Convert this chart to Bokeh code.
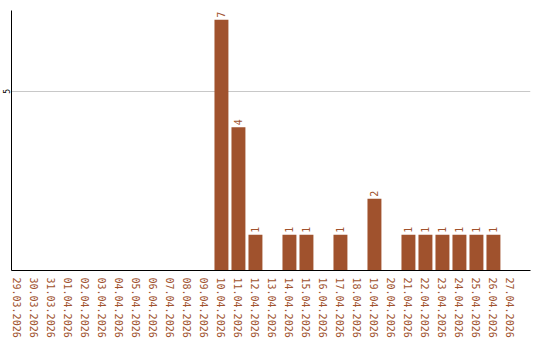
from bokeh.plotting import figure
from bokeh.models import ColumnDataSource, Range1d, FixedTicker
from bokeh.embed import file_html
from bokeh.resources import INLINE
from bokeh.core.properties import value
import math

dates = ["29.03.2026", "30.03.2026", "31.03.2026", "01.04.2026", "02.04.2026",
         "03.04.2026", "04.04.2026", "05.04.2026", "06.04.2026", "07.04.2026",
         "08.04.2026", "09.04.2026", "10.04.2026", "11.04.2026", "12.04.2026",
         "13.04.2026", "14.04.2026", "15.04.2026", "16.04.2026", "17.04.2026",
         "18.04.2026", "19.04.2026", "20.04.2026", "21.04.2026", "22.04.2026",
         "23.04.2026", "24.04.2026", "25.04.2026", "26.04.2026", "27.04.2026"]
counts = [0, 0, 0, 0, 0, 0, 0, 0, 0, 0,
          0, 0, 7, 4, 1, 0, 1, 1, 0, 1,
          0, 2, 0, 1, 1, 1, 1, 1, 1, 0]
y_ticks = [5]

BROWN = "#A0522D"
idx = list(range(len(dates)))
src = ColumnDataSource(dict(x=idx, top=counts))
nz = [i for i, c in enumerate(counts) if c > 0]
lab = ColumnDataSource(dict(x=nz, y=[counts[i] for i in nz],
                            t=[str(counts[i]) for i in nz]))

p = figure(width=540, height=340, output_backend="svg", toolbar_location=None,
           x_range=Range1d(-0.35, 30.18), y_range=Range1d(0, 7.26),
           min_border_left=10, min_border_right=10, min_border_top=10,
           min_border_bottom=70)
p.outline_line_color = None
p.background_fill_color = "white"
p.border_fill_color = "white"

p.vbar(x="x", top="top", width=0.82, bottom=0, source=src,
       fill_color=BROWN, line_color=None)
p.text(x="x", y="y", text="t", source=lab, angle=math.pi / 2,
       text_align="left", text_baseline="middle", y_offset=-2,
       text_color=BROWN, text_font=value("DejaVu Sans Mono"),
       text_font_size="10px")

p.xaxis.ticker = FixedTicker(ticks=idx)
p.xaxis.major_label_overrides = {i: d for i, d in enumerate(dates)}
p.xaxis.major_label_orientation = "vertical"
p.xaxis.major_label_text_color = BROWN
p.xaxis.major_label_text_font = "DejaVu Sans Mono"
p.xaxis.major_label_text_font_size = "10px"
p.xaxis.major_label_standoff = 7
p.xaxis.major_tick_line_color = None
p.xaxis.major_tick_out = 0
p.xaxis.major_tick_in = 0
p.xaxis.minor_tick_line_color = None
p.xaxis.axis_line_color = "black"

p.yaxis.ticker = FixedTicker(ticks=y_ticks)
p.yaxis.major_label_orientation = "vertical"
p.yaxis.major_label_text_color = "black"
p.yaxis.major_label_text_font = "DejaVu Sans Mono"
p.yaxis.major_label_text_font_size = "8px"
p.yaxis.major_label_standoff = 1
p.yaxis.major_tick_line_color = None
p.yaxis.major_tick_out = 0
p.yaxis.major_tick_in = 0
p.yaxis.minor_tick_line_color = None
p.yaxis.axis_line_color = "black"

p.xgrid.grid_line_color = None
p.ygrid.ticker = FixedTicker(ticks=y_ticks)
p.ygrid.grid_line_color = "#c8c8c8"

open("out.html", "w").write(file_html(p, INLINE))
